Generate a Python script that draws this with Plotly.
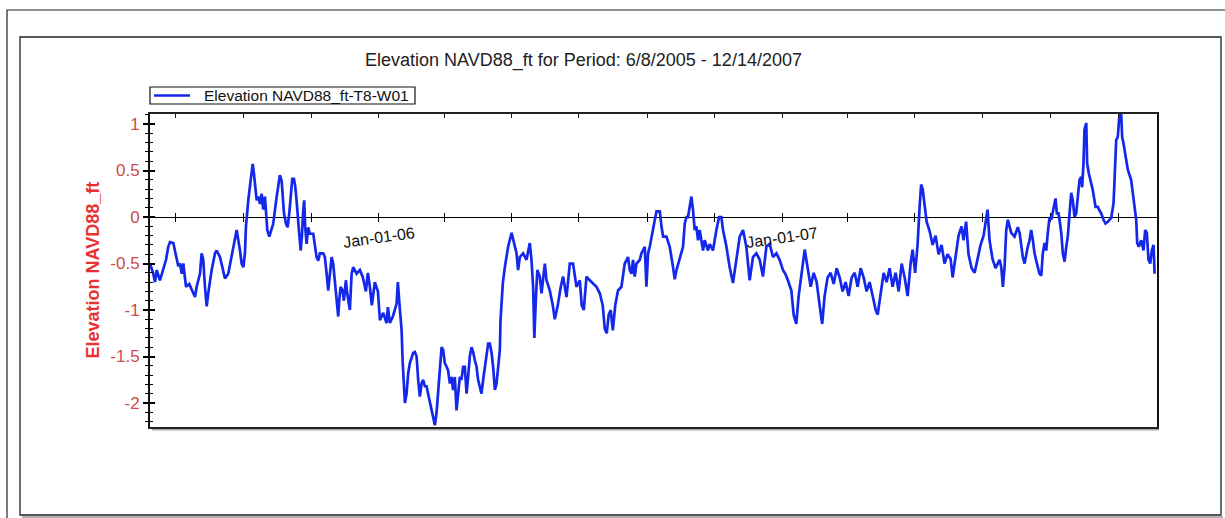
import plotly.graph_objects as go
import pandas as pd

FONT = "Liberation Sans, Arial, sans-serif"

chart_title = "Elevation NAVD88_ft for Period: 6/8/2005 - 12/14/2007"
series_name = "Elevation NAVD88_ft-T8-W01"
y_title = "Elevation NAVD88_ft"
line_color = "rgb(20,40,235)"

start_date = "2005-06-08"
x_range = ["2005-06-08", "2007-12-06"]
y_range = [-2.258, 1.108]

y_tick_vals = [-2, -1.5, -1, -0.5, 0, 0.5, 1]
y_tick_text = ["-2", "-1.5", "-1", "-0.5", "0", "0.5", "1"]

x_tick_vals = ["2005-07-01", "2005-09-01", "2005-11-01", "2006-01-01", "2006-03-01",
               "2006-05-01", "2006-07-01", "2006-09-01", "2006-11-01", "2007-01-01",
               "2007-03-01", "2007-05-01", "2007-07-01", "2007-09-01", "2007-11-01"]
x_tick_text = ["", "", "", "Jan-01-06", "", "", "", "", "", "Jan-01-07",
               "", "", "", "", ""]

# (days since start_date, elevation ft)
obs_2005_summer_fall = [
    (0, -0.50), (3.0, -0.61), (4.5, -0.70), (6.1, -0.57), (9.0, -0.68), (12.0, -0.57),
    (14.5, -0.46), (16.5, -0.32), (18.1, -0.27), (21.1, -0.28), (24.1, -0.43), (25.6, -0.53),
    (27.1, -0.50), (28.7, -0.61), (30.1, -0.50), (32.6, -0.75), (35.5, -0.72), (39.2, -0.82),
    (40.7, -0.86), (42.2, -0.75), (45.2, -0.61), (46.7, -0.39), (48.2, -0.46), (49.7, -0.75),
    (51.3, -0.96), (52.7, -0.82), (55.8, -0.57), (58.8, -0.39), (60.3, -0.36), (63.3, -0.43),
    (66.3, -0.61), (67.8, -0.66), (70.8, -0.61), (73.8, -0.43), (76.8, -0.21), (78.4, -0.14),
    (81.4, -0.36), (82.9, -0.50), (84.4, -0.54), (85.9, -0.39), (86.8, -0.10), (88.0, 0.08),
    (88.9, 0.18), (90.4, 0.33), (92.0, 0.54), (92.9, 0.57), (94.0, 0.47), (95.2, 0.33),
    (96.5, 0.18), (97.9, 0.22), (99.5, 0.14), (101.0, 0.25), (102.4, 0.08), (104.0, 0.22),
    (104.9, 0.0), (106.1, -0.14), (107.9, -0.21), (111.5, -0.07), (114.6, 0.22), (116.0, 0.36),
    (117.5, 0.45), (119.1, 0.39), (120.0, 0.22), (121.2, 0.04), (123.0, -0.07), (124.5, -0.11),
    (126.0, 0.04), (127.2, 0.25), (128.7, 0.41), (130.2, 0.41), (131.4, 0.33), (132.6, 0.18),
    (133.5, 0.0), (135.0, -0.18), (136.3, -0.36), (137.4, -0.21), (138.6, 0.07), (139.5, 0.18),
    (140.4, -0.11), (141.7, -0.29), (143.1, -0.11), (144.7, -0.18), (147.7, -0.18), (149.2, -0.29),
    (150.7, -0.43), (152.2, -0.47), (153.7, -0.39), (156.7, -0.39), (158.2, -0.43), (159.8, -0.61),
    (161.2, -0.79), (162.8, -0.61), (164.3, -0.43), (165.7, -0.50), (167.3, -0.72), (168.8, -0.90),
    (170.3, -1.07), (171.2, -0.90), (172.4, -0.75), (174.2, -0.79), (175.4, -0.90), (177.2, -0.68),
    (178.4, -0.82), (180.8, -1.00), (182.4, -0.61), (183.8, -0.54), (186.9, -0.61), (189.9, -0.57),
]

obs_2006_winter_spring = [
    (192.6, -0.65), (195.3, -0.80), (197.1, -0.60), (198.9, -0.75), (200.7, -0.95), (203.4, -0.70),
    (206.2, -0.80), (208.0, -1.11), (211.0, -1.03), (214.0, -1.14), (215.2, -0.97), (217.0, -1.14),
    (219.7, -1.07), (223.1, -0.93), (224.2, -0.70), (226.1, -1.00), (227.6, -1.21), (228.5, -1.54),
    (229.7, -1.79), (230.6, -2.00), (232.1, -1.90), (233.6, -1.68), (235.1, -1.57), (236.6, -1.52),
    (238.1, -1.46), (239.6, -1.45), (241.2, -1.50), (242.6, -1.75), (244.1, -1.93), (245.7, -1.79),
    (247.1, -1.75), (248.7, -1.82), (250.2, -1.82), (251.6, -1.90), (253.2, -2.00), (254.7, -2.08),
    (256.2, -2.15), (257.7, -2.24), (259.2, -2.11), (260.7, -1.90), (262.2, -1.61), (263.8, -1.40),
    (265.2, -1.43), (266.7, -1.57), (268.3, -1.61), (269.7, -1.65), (271.3, -1.79), (272.8, -1.72),
    (274.2, -1.86), (275.8, -1.72), (277.3, -2.08), (278.8, -1.93), (280.3, -1.72), (281.8, -1.75),
    (283.3, -1.61), (284.8, -1.61), (286.4, -1.90), (287.8, -1.72), (289.3, -1.50), (290.9, -1.40),
    (292.3, -1.45), (293.9, -1.54), (295.4, -1.61), (296.8, -1.75), (298.4, -1.82), (299.9, -1.90),
    (301.4, -1.75), (302.9, -1.61), (304.5, -1.46), (305.9, -1.36), (307.4, -1.36), (309.0, -1.46),
    (310.4, -1.61), (312.0, -1.86), (313.5, -1.79), (314.9, -1.61), (316.5, -1.43), (317.1, -1.11),
    (318.0, -0.93),
]

obs_2006_summer_fall = [
    (319.2, -0.71), (321.0, -0.54), (324.0, -0.32), (327.1, -0.17), (328.5, -0.24), (331.6, -0.39),
    (333.0, -0.57), (334.6, -0.43), (337.5, -0.39), (340.6, -0.46), (343.6, -0.28), (345.1, -0.46),
    (346.6, -0.75), (347.7, -1.30), (349.0, -0.90), (350.4, -0.57), (352.6, -0.64), (354.2, -0.82),
    (357.2, -0.50), (358.7, -0.68), (361.7, -0.79), (364.4, -0.95), (366.2, -1.10), (368.9, -0.95),
    (371.6, -0.75), (373.7, -0.64), (376.8, -0.86), (379.8, -0.50), (382.7, -0.50), (385.8, -0.75),
    (388.8, -0.68), (390.6, -0.95), (392.4, -1.00), (394.9, -0.64), (397.8, -0.68), (400.8, -0.71),
    (403.9, -0.75), (406.9, -0.82), (409.6, -0.95), (411.4, -1.20), (413.2, -1.25), (415.0, -1.05),
    (416.8, -1.00), (418.7, -1.22), (420.9, -0.95), (423.4, -0.79), (426.5, -0.75), (429.5, -0.50),
    (432.5, -0.43), (434.0, -0.57), (435.6, -0.61), (437.0, -0.46), (438.5, -0.64), (440.1, -0.50),
    (443.1, -0.46), (444.6, -0.39), (446.1, -0.36), (447.6, -0.32), (449.1, -0.75), (450.6, -0.39),
    (452.1, -0.32), (453.6, -0.21), (455.1, -0.14), (456.7, -0.03), (458.2, 0.06), (461.2, 0.06),
    (462.7, -0.10), (464.2, -0.21), (467.2, -0.21), (470.2, -0.32), (473.2, -0.54), (474.7, -0.67),
    (476.3, -0.57), (479.2, -0.46), (482.2, -0.32), (483.8, -0.07), (485.3, 0.0), (486.7, 0.0),
    (488.3, 0.11), (489.8, 0.22), (491.3, 0.07), (492.8, -0.14), (494.3, -0.10), (495.8, -0.25),
    (497.3, -0.14), (500.3, -0.36), (501.8, -0.25), (504.8, -0.36), (506.4, -0.29), (509.3, -0.36),
    (512.4, -0.14), (514.8, 0.0), (516.9, 0.0), (518.4, -0.14), (521.5, -0.32), (524.4, -0.54),
    (527.4, -0.71), (530.5, -0.46), (533.5, -0.21), (536.5, -0.14), (539.5, -0.32), (542.5, -0.68),
    (545.5, -0.43), (548.6, -0.39), (551.6, -0.46), (554.5, -0.64), (557.6, -0.32), (560.6, -0.29),
    (563.6, -0.43), (566.7, -0.39), (569.6, -0.46), (572.6, -0.57), (575.1, -0.62), (577.1, -0.68),
    (580.2, -0.79), (582.3, -1.05), (584.7, -1.15), (586.8, -0.85), (589.5, -0.60),
]

obs_2007_winter_summer = [
    (592.3, -0.35), (595.0, -0.55), (597.7, -0.75), (600.4, -0.60), (603.1, -0.70), (605.8, -0.95),
    (608.1, -1.15), (610.3, -0.85), (613.0, -0.65), (615.8, -0.60), (618.5, -0.72), (621.2, -0.55),
    (623.9, -0.65), (626.6, -0.80), (629.3, -0.70), (632.0, -0.85), (634.8, -0.65), (637.5, -0.60),
    (640.2, -0.75), (642.9, -0.55), (645.6, -0.65), (648.3, -0.80), (651.0, -0.70), (653.8, -0.85),
    (656.5, -1.00), (658.3, -1.05), (661.0, -0.80), (663.7, -0.60), (666.4, -0.70), (669.1, -0.55),
    (671.8, -0.75), (674.5, -0.60), (677.3, -0.80), (680.0, -0.50), (682.7, -0.65), (685.4, -0.85),
    (688.1, -0.50), (689.9, -0.35), (692.2, -0.60), (694.4, -0.30), (696.2, 0.10), (697.6, 0.35),
    (699.0, 0.30), (700.8, 0.10), (702.6, -0.05), (705.3, -0.15), (708.0, -0.30), (710.7, -0.20),
    (713.4, -0.40), (716.1, -0.30), (718.8, -0.50), (721.5, -0.40), (724.3, -0.45), (726.1, -0.65),
    (728.8, -0.40), (731.5, -0.20), (734.2, -0.10), (736.0, -0.25), (738.3, -0.05), (740.5, -0.40),
    (743.3, -0.55), (746.0, -0.60), (748.7, -0.45), (751.4, -0.30), (754.1, -0.20), (756.4, -0.05),
    (757.7, 0.08), (759.5, -0.25), (762.2, -0.45), (764.9, -0.55), (766.7, -0.50),
]

obs_2007_fall = [
    (768.6, -0.46), (770.1, -0.54), (771.6, -0.75), (773.1, -0.54), (774.6, -0.14), (776.1, -0.03),
    (777.6, -0.11), (779.1, -0.17), (782.1, -0.21), (785.1, -0.11), (786.7, -0.17), (788.2, -0.32),
    (789.6, -0.43), (791.2, -0.50), (792.7, -0.39), (794.1, -0.32), (795.7, -0.25), (797.2, -0.14),
    (798.7, -0.25), (800.2, -0.39), (803.2, -0.54), (804.7, -0.61), (806.3, -0.63), (807.7, -0.39),
    (809.3, -0.28), (810.8, -0.36), (812.2, -0.17), (813.8, 0.0), (815.3, -0.03), (816.7, 0.04),
    (818.3, 0.15), (819.2, 0.20), (820.4, 0.04), (821.9, 0.04), (822.8, -0.03), (824.4, -0.17),
    (825.8, -0.39), (827.4, -0.48), (828.9, -0.32), (830.3, -0.21), (831.9, 0.04), (833.4, 0.26),
    (834.8, 0.18), (836.4, 0.0), (837.9, 0.04), (839.4, 0.26), (840.9, 0.40), (842.4, 0.43),
    (843.3, 0.32), (844.5, 0.58), (845.4, 0.94), (847.0, 1.01), (847.8, 0.58), (849.3, 0.47),
    (850.8, 0.40), (852.9, 0.29), (855.4, 0.11), (857.4, 0.11), (859.0, 0.07), (860.5, 0.04),
    (862.6, -0.03), (864.4, -0.07), (866.5, -0.05), (869.6, -0.01), (871.7, 0.15), (872.8, 0.40),
    (874.1, 0.83), (875.5, 0.86), (877.1, 1.11), (878.6, 1.11), (879.5, 0.86), (880.7, 0.79),
    (882.5, 0.65), (884.6, 0.51), (887.6, 0.40), (889.1, 0.26), (890.6, 0.07), (892.2, -0.03),
    (893.1, -0.28), (894.5, -0.32), (896.7, -0.25), (898.8, -0.36), (900.3, -0.14), (901.8, -0.17),
    (903.3, -0.46), (904.9, -0.50), (906.3, -0.36), (907.9, -0.30), (908.8, -0.61),
]

observations = (obs_2005_summer_fall + obs_2006_winter_spring + obs_2006_summer_fall
                + obs_2007_winter_summer + obs_2007_fall)
day_offsets = [d for d, _ in observations]
elevation_ft = [v for _, v in observations]
dates = pd.Timestamp(start_date) + pd.to_timedelta(day_offsets, unit="D")

# pixel helpers for decorations outside the plot area
PL, PR, PT, PB = 150, 1157, 114, 427
W, H = 1225, 518


def px(xp):
    return (xp - PL) / (PR - PL)


def py(yp):
    return (PB - yp) / (PB - PT)


zero_pos = (0 - y_range[0]) / (y_range[1] - y_range[0])

fig = go.Figure()
fig.add_trace(go.Scatter(
    x=dates, y=elevation_ft, mode="lines", name=series_name,
    line=dict(color=line_color, width=2.7), showlegend=False,
))
# helper traces so the overlay axes render
fig.add_trace(go.Scatter(x=[x_range[0]], y=[None], xaxis="x2", yaxis="y",
                         showlegend=False, hoverinfo="skip"))
fig.add_trace(go.Scatter(x=[x_range[0]], y=[None], xaxis="x3", yaxis="y",
                         showlegend=False, hoverinfo="skip"))
fig.add_trace(go.Scatter(x=[x_range[0]], y=[None], xaxis="x", yaxis="y2",
                         showlegend=False, hoverinfo="skip"))

tick_font = dict(family=FONT, size=17, color="rgb(205,75,75)")

fig.update_layout(
    width=W, height=H,
    margin=dict(l=PL, r=W - PR, t=PT, b=H - PB, pad=0),
    paper_bgcolor="white", plot_bgcolor="white",
    font=dict(family=FONT, color="black"),
    showlegend=False,
    xaxis=dict(
        type="date", range=x_range, side="top",
        showgrid=False, zeroline=False,
        showline=True, linecolor="#222", linewidth=1.5, mirror=True,
        ticks="inside", ticklen=4, tickwidth=1.2, tickcolor="#222",
        tickvals=x_tick_vals, showticklabels=False,
    ),
    xaxis2=dict(
        type="date", range=x_range, overlaying="x", anchor="free", position=zero_pos,
        showgrid=False, zeroline=False,
        showline=True, linecolor="black", linewidth=1.3,
        ticks="outside", ticklen=4, tickwidth=1.2, tickcolor="black",
        tickvals=x_tick_vals, showticklabels=False, layer="below traces",
    ),
    xaxis3=dict(
        type="date", range=x_range, overlaying="x", anchor="free", position=zero_pos,
        showgrid=False, zeroline=False, showline=False,
        ticks="inside", ticklen=4, tickwidth=1.2, tickcolor="black",
        tickvals=x_tick_vals, showticklabels=False, layer="below traces",
    ),
    yaxis=dict(
        range=y_range, showgrid=False, zeroline=False,
        showline=True, linecolor="#111", linewidth=2, mirror=True,
        ticks="outside", ticklen=5, tickwidth=1.5, tickcolor="black",
        tickvals=y_tick_vals, ticktext=y_tick_text, tickfont=tick_font,
        minor=dict(ticks="outside", ticklen=3, tickwidth=1, tickcolor="black",
                   dtick=0.1, tick0=0, showgrid=False),
    ),
    yaxis2=dict(
        range=y_range, overlaying="y", side="left", anchor="x",
        showgrid=False, zeroline=False, showline=False,
        ticks="inside", ticklen=5, tickwidth=1.5, tickcolor="black",
        tickvals=y_tick_vals, showticklabels=False,
        minor=dict(ticks="inside", ticklen=3, tickwidth=1, tickcolor="black",
                   dtick=0.1, tick0=0, showgrid=False),
    ),
)

annotations = [
    dict(text=chart_title, x=px(583), y=py(61), xref="paper", yref="paper",
         xanchor="center", yanchor="middle", showarrow=False,
         font=dict(family=FONT, size=18, color="#222")),
    dict(text="<b>" + y_title + "</b>", x=px(92), y=0.5, xref="paper", yref="paper",
         xanchor="center", yanchor="middle", textangle=-90, showarrow=False,
         font=dict(family=FONT, size=18, color="rgb(232,50,50)")),
    # legend entry text
    dict(text=series_name, x=px(202), y=py(95.5), xref="paper", yref="paper",
         xanchor="left", yanchor="middle", showarrow=False,
         font=dict(family=FONT, size=15.5, color="#111")),
]
for tv, tt in zip(x_tick_vals, x_tick_text):
    if tt:
        annotations.append(dict(
            text=tt, x=tv, y=0, xref="x", yref="y", xanchor="center", yanchor="top",
            yshift=-5, textangle=-8, showarrow=False,
            font=dict(family=FONT, size=16, color="#111")))
fig.update_layout(annotations=annotations)

shapes = [
    # outer frame
    dict(type="rect", xref="paper", yref="paper", x0=px(7), x1=px(1240), y0=py(540), y1=py(10),
         line=dict(color="#222", width=1.2), fillcolor="rgba(0,0,0,0)", layer="below"),
    # inner panel shadow and border
    dict(type="line", xref="paper", yref="paper", x0=px(22), x1=px(1223), y0=py(517), y1=py(517),
         line=dict(color="#999", width=1.5), layer="below"),
    dict(type="rect", xref="paper", yref="paper", x0=px(20), x1=px(1221), y0=py(515), y1=py(37),
         line=dict(color="#222", width=1.3), fillcolor="white", layer="below"),
    # plot area shadow
    dict(type="line", xref="paper", yref="paper", x0=px(152), x1=px(1159), y0=py(429.5), y1=py(429.5),
         line=dict(color="#aaa", width=2), layer="below"),
    # legend box and line sample
    dict(type="rect", xref="paper", yref="paper", x0=px(150), x1=px(415), y0=py(104), y1=py(87),
         line=dict(color="#111", width=1.2), fillcolor="white", layer="above"),
    dict(type="line", xref="paper", yref="paper", x0=px(154), x1=px(190), y0=py(95.5), y1=py(95.5),
         line=dict(color=line_color, width=2.7), layer="above"),
]
fig.update_layout(shapes=shapes)

fig.write_html(
    "out.html",
    config={"displayModeBar": False},
    post_script="document.body.style.margin='0';document.body.style.overflow='hidden';",
)
